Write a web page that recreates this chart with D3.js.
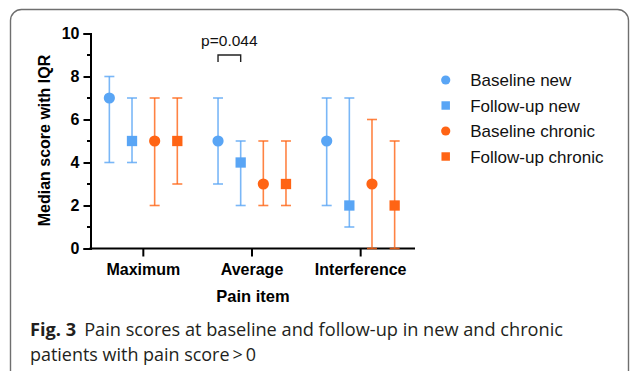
<!DOCTYPE html>
<html><head><meta charset="utf-8">
<script src="https://cdn.jsdelivr.net/npm/d3@7/dist/d3.min.js"></script>
<style>
html,body{margin:0;padding:0;background:#fff;}
svg{display:block;}
</style></head>
<body><svg id="c" width="630" height="371"></svg>
<script>
const categories = ["Maximum", "Average", "Interference"];
const series = ["Baseline new", "Follow-up new", "Baseline chronic", "Follow-up chronic"];
const seriesShape = ["circle", "square", "circle", "square"];
const seriesColor = ["#59a5f5", "#59a5f5", "#ff6414", "#ff6414"];
// medians and IQR per series, in category order
const baselineNewMedian = [7, 5, 5];
const baselineNewQ1 = [4, 3, 2];
const baselineNewQ3 = [8, 7, 7];
const followupNewMedian = [5, 4, 2];
const followupNewQ1 = [4, 2, 1];
const followupNewQ3 = [7, 5, 7];
const baselineChronicMedian = [5, 3, 3];
const baselineChronicQ1 = [2, 2, 0];
const baselineChronicQ3 = [7, 5, 6];
const followupChronicMedian = [5, 3, 2];
const followupChronicQ1 = [3, 2, 0];
const followupChronicQ3 = [7, 5, 5];
const yTicks = [0, 2, 4, 6, 8, 10];
const yMinorTicks = [1, 3, 5, 7, 9];
const pText = "p=0.044";
const pCategory = "Average";
const pPair = ["Baseline new", "Follow-up new"];
const xTitle = "Pain item";
const yTitle = "Median score with IQR";
const captionBold = "Fig. 3";
const captionLine1 = "Pain scores at baseline and follow-up in new and chronic";
const captionLine2 = "patients with pain score\u2009>\u20090";

const medians = [baselineNewMedian, followupNewMedian, baselineChronicMedian, followupChronicMedian];
const q1s = [baselineNewQ1, followupNewQ1, baselineChronicQ1, followupChronicQ1];
const q3s = [baselineNewQ3, followupNewQ3, baselineChronicQ3, followupChronicQ3];

const points = [];
series.forEach((s, si) => categories.forEach((c, ci) => {
  points.push({series: s, si, cat: c, med: medians[si][ci], lo: q1s[si][ci], hi: q3s[si][ci]});
}));

const svg = d3.select("#c");
const FONT = "'Liberation Sans', Arial, Helvetica, sans-serif";

// frame
svg.append("rect").attr("x", 10.5).attr("y", 9.5).attr("width", 618).attr("height", 400)
  .attr("rx", 11).attr("fill", "none").attr("stroke", "#6f6f6f").attr("stroke-width", 1.4);

const axX = 90.5;
const y = d3.scaleLinear().domain([0, 10]).range([248.5, 33.5]);
const x = d3.scaleBand().domain(categories).range([89, 415]);
const xs = d3.scaleBand().domain(series).range([-45.3, 45.3]);
const px = (cat, s) => x(cat) + x.bandwidth() / 2 + xs(s) + xs.bandwidth() / 2;

// y axis
const gy = svg.append("g").attr("transform", `translate(${axX},0)`)
  .call(d3.axisLeft(y).tickValues(yTicks).tickSize(7).tickPadding(4).tickFormat(d3.format("d")));
gy.select(".domain").attr("stroke", "#000").attr("stroke-width", 2);
gy.selectAll(".tick line").attr("stroke", "#000").attr("stroke-width", 2);
gy.selectAll(".tick text").attr("font-family", FONT).attr("font-size", 16).attr("font-weight", "bold").attr("fill", "#000");
gy.selectAll(".minor").data(yMinorTicks).enter().append("line")
  .attr("x1", -3.5).attr("x2", 0).attr("y1", d => y(d)).attr("y2", d => y(d))
  .attr("stroke", "#000").attr("stroke-width", 2);

// x axis
const gx = svg.append("g").attr("transform", `translate(0,${y(0)})`)
  .call(d3.axisBottom(x).tickSize(8).tickPadding(7).tickSizeOuter(0));
gx.select(".domain").attr("stroke", "#000").attr("stroke-width", 2).attr("d", `M${axX - 1},0H415`);
gx.selectAll(".tick line").attr("stroke", "#000").attr("stroke-width", 2);
gx.selectAll(".tick text").attr("font-family", FONT).attr("font-size", 16).attr("font-weight", "bold").attr("fill", "#000");

// titles
svg.append("text").attr("x", 253).attr("y", 302).attr("text-anchor", "middle")
  .attr("font-family", FONT).attr("font-size", 16.5).attr("font-weight", "bold").text(xTitle);
svg.append("text").attr("transform", "translate(50,140.5) rotate(-90)").attr("text-anchor", "middle")
  .attr("font-family", FONT).attr("font-size", 16).attr("font-weight", "bold").text(yTitle);

// error bars
const capW = 5;
const eb = svg.append("g").selectAll("g").data(points).enter().append("g")
  .attr("stroke", d => seriesColor[d.si]).attr("stroke-opacity", 0.8).attr("stroke-width", 1.6);
eb.append("line").attr("x1", d => px(d.cat, d.series)).attr("x2", d => px(d.cat, d.series))
  .attr("y1", d => y(d.lo)).attr("y2", d => y(d.hi));
eb.append("line").attr("x1", d => px(d.cat, d.series) - capW).attr("x2", d => px(d.cat, d.series) + capW)
  .attr("y1", d => y(d.hi)).attr("y2", d => y(d.hi));
eb.append("line").attr("x1", d => px(d.cat, d.series) - capW).attr("x2", d => px(d.cat, d.series) + capW)
  .attr("y1", d => y(d.lo)).attr("y2", d => y(d.lo));

// markers
function drawMarker(g, shape, color, r) {
  if (shape === "circle") g.append("circle").attr("r", r).attr("fill", color);
  else g.append("rect").attr("x", -r * 0.92).attr("y", -r * 0.92).attr("width", r * 1.84).attr("height", r * 1.84).attr("fill", color);
}
points.forEach(d => {
  const g = svg.append("g").attr("transform", `translate(${px(d.cat, d.series)},${y(d.med)})`);
  drawMarker(g, seriesShape[d.si], seriesColor[d.si], 5.6);
});

// significance bracket
const bx1 = px(pCategory, pPair[0]), bx2 = px(pCategory, pPair[1]);
svg.append("path").attr("d", `M${bx1},62V55H${bx2}V62`).attr("fill", "none").attr("stroke", "#222").attr("stroke-width", 1.4);
svg.append("text").attr("x", (bx1 + bx2) / 2).attr("y", 45.5).attr("text-anchor", "middle")
  .attr("font-family", FONT).attr("font-size", 15.5).attr("fill", "#111").text(pText);

// legend
const lg = svg.append("g").selectAll("g").data(series).enter().append("g")
  .attr("transform", (d, i) => `translate(445.7,${80 + i * 25.5})`);
lg.each(function(d, i) { drawMarker(d3.select(this), seriesShape[i], seriesColor[i], 4.6); });
lg.append("text").attr("x", 24.5).attr("y", 6).attr("font-family", FONT).attr("font-size", 17)
  .attr("fill", "#111").text(d => d);

// caption
const CF = "'Open Sans', 'Noto Sans', sans-serif";
const cap1 = svg.append("text").attr("x", 30).attr("y", 336).attr("font-family", CF).attr("font-size", 18).attr("fill", "#231f20");
cap1.append("tspan").attr("font-weight", "bold").text(captionBold);
cap1.append("tspan").attr("dx", 8).text(captionLine1);
cap1.attr("textLength", 533).attr("lengthAdjust", "spacingAndGlyphs");
const cap2 = svg.append("text").attr("x", 30).attr("y", 361).attr("font-family", CF).attr("font-size", 18).attr("fill", "#231f20")
  .text(captionLine2);
cap2.attr("textLength", 226).attr("lengthAdjust", "spacingAndGlyphs");
</script></body></html>
